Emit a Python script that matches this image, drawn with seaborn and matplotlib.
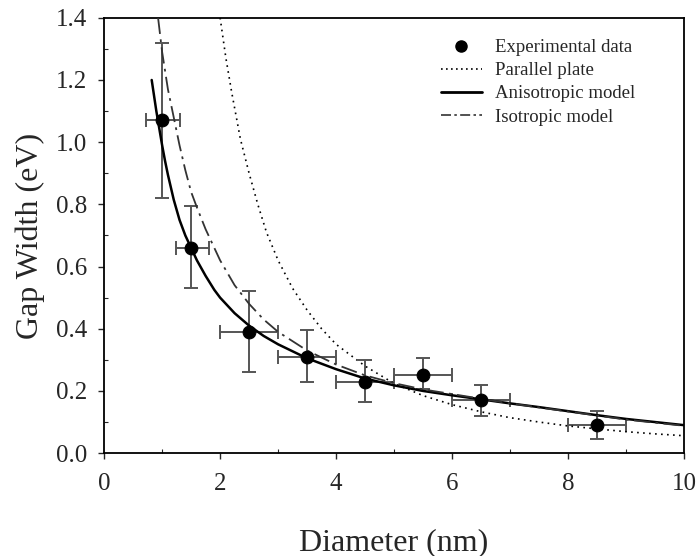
import numpy as np
import pandas as pd
import matplotlib
matplotlib.use('Agg')
import matplotlib.pyplot as plt
from matplotlib.lines import Line2D
from matplotlib.ticker import MultipleLocator, FormatStrFormatter
import seaborn as sns

# ── Experimental data ────────────────────────────────────────────
diam      = [1.0, 1.5, 2.5, 3.5, 4.5, 5.5, 6.5, 8.5]
gap       = [1.07, 0.66, 0.39, 0.31, 0.23, 0.25, 0.17, 0.09]
gap_lo    = [0.82, 0.53, 0.26, 0.23, 0.165, 0.205, 0.12, 0.045]
gap_hi    = [1.32, 0.795, 0.52, 0.395, 0.30, 0.305, 0.22, 0.135]
diam_lo   = [0.72, 1.24, 2.0, 3.0, 4.0, 5.0, 6.0, 8.0]
diam_hi   = [1.30, 1.80, 3.0, 4.0, 5.0, 6.0, 7.0, 9.0]

# ── Model curves ─────────────────────────────────────────────────
pp_x  = [2.0, 2.1, 2.2, 2.35, 2.5, 2.65, 2.8, 3.0, 3.25, 3.5, 3.75, 4.0, 4.5, 5.0, 5.5, 6.0,
         6.5, 7.0, 7.5, 8.0, 8.5, 9.0, 9.5, 10.0]
pp_y  = [1.40, 1.27, 1.16, 1.01, 0.90, 0.80, 0.71, 0.62, 0.53, 0.46, 0.40, 0.35, 0.28, 0.224,
         0.185, 0.156, 0.133, 0.114, 0.10, 0.0875, 0.078, 0.069, 0.062, 0.056]

an_x  = [0.82, 0.86, 0.9, 0.95, 1.0, 1.05, 1.1, 1.2, 1.3, 1.4, 1.5, 1.6, 1.75, 1.9, 2.0, 2.25,
         2.5, 2.75, 3.0, 3.5, 4.0, 4.5, 5.0, 5.5, 6.0, 6.5, 7.0, 7.5, 8.0, 8.5, 9.0, 9.5, 10.0]
an_y  = [1.20, 1.15, 1.10, 1.045, 0.99, 0.94, 0.895, 0.815, 0.75, 0.70, 0.66, 0.62, 0.57, 0.525,
         0.50, 0.45, 0.41, 0.377, 0.35, 0.305, 0.27, 0.24, 0.218, 0.20, 0.186, 0.173, 0.16,
         0.148, 0.135, 0.122, 0.11, 0.10, 0.09]

iso_x = [0.93, 1.0, 1.1, 1.2, 1.3, 1.4, 1.5, 1.6, 1.75, 1.9, 2.0, 2.25, 2.5, 2.75, 3.0, 3.25,
         3.5, 4.0, 4.5, 5.0, 5.5, 6.0, 6.5, 7.0, 7.5, 8.0, 8.5, 9.0, 9.5, 10.0]
iso_y = [1.40, 1.29, 1.17, 1.08, 0.99, 0.91, 0.84, 0.79, 0.72, 0.66, 0.62, 0.54, 0.48, 0.43,
         0.39, 0.36, 0.33, 0.285, 0.25, 0.225, 0.205, 0.19, 0.175, 0.16, 0.147, 0.134, 0.121,
         0.108, 0.098, 0.088]

legend_labels = ['Experimental data', 'Parallel plate', 'Anisotropic model', 'Isotropic model']

sns.set_theme(style='ticks')
plt.rcParams['font.family'] = ['Liberation Serif', 'DejaVu Serif']

fig = plt.figure(figsize=(6.99, 5.56), dpi=100)
ax = fig.add_axes([0.149, 0.185, 0.8295, 0.783])

df_pts = pd.DataFrame({'d': diam, 'g': gap})
err_y = [np.array(gap) - np.array(gap_lo), np.array(gap_hi) - np.array(gap)]
err_x = [np.array(diam) - np.array(diam_lo), np.array(diam_hi) - np.array(diam)]

# ── Barres d'erreur + courbes ────────────────────────────────────
ax.errorbar(diam, gap, xerr=err_x, yerr=err_y, fmt='none', ecolor='#555555',
            elinewidth=1.4, capsize=5, capthick=1.4, zorder=2)

sns.lineplot(x=pp_x, y=pp_y, ax=ax, color='black', lw=1.2, linestyle=(0, (1, 2.6)), zorder=3)
sns.lineplot(x=an_x, y=an_y, ax=ax, color='black', lw=1.8, zorder=3)
sns.lineplot(x=iso_x, y=iso_y, ax=ax, color='#333333', lw=1.3,
             linestyle=(0, (9, 3, 1.5, 3)), zorder=3)
sns.scatterplot(data=df_pts, x='d', y='g', ax=ax, color='black', s=85,
                edgecolor='black', zorder=4)

ax.set_xlim(0, 10)
ax.set_ylim(0, 1.4)
ax.xaxis.set_major_locator(MultipleLocator(2))
ax.xaxis.set_minor_locator(MultipleLocator(1))
ax.yaxis.set_major_locator(MultipleLocator(0.2))
ax.yaxis.set_minor_locator(MultipleLocator(0.1))
ax.yaxis.set_major_formatter(FormatStrFormatter('%.1f'))

ax.tick_params(which='major', direction='out', length=4, width=1, labelsize=18)
ax.tick_params(axis='x', which='major', pad=10)
ax.tick_params(axis='y', which='major', pad=8)
ax.tick_params(which='minor', direction='in', length=3, width=0.8)
for s in ax.spines.values():
    s.set_linewidth(1.3)
    s.set_color('black')

ax.set_xlabel('Diameter (nm)', fontsize=23, labelpad=24)
ax.set_ylabel('Gap Width (eV)', fontsize=23, labelpad=8)

handles = [
    Line2D([], [], marker='o', color='black', linestyle='none', markersize=8),
    Line2D([], [], color='black', lw=1.2, linestyle=(0, (1, 2))),
    Line2D([], [], color='black', lw=2),
    Line2D([], [], color='#333333', lw=1.2, linestyle=(0, (6, 2, 1.5, 2))),
]
ax.legend(handles, legend_labels, loc='upper right', frameon=False, fontsize=13.5,
          handlelength=2.2, handletextpad=0.7, labelspacing=0.32,
          bbox_to_anchor=(0.945, 0.99))

plt.savefig('out.png', dpi=100)
plt.close()
